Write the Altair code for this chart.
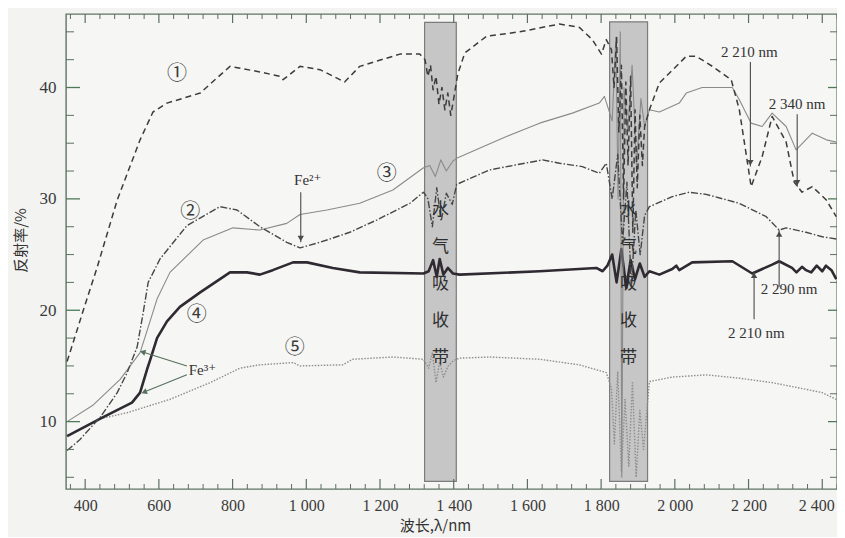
import altair as alt
import pandas as pd

# ---------------- data ----------------
wl1 = [351, 395, 433, 487, 549, 584, 622, 712, 793, 874, 928, 937, 983, 1037, 1104, 1145, 1254, 1308,
       1322, 1330, 1337, 1344, 1352, 1360, 1368, 1376, 1384, 1392, 1400,
       1411, 1430, 1489, 1579, 1687, 1741, 1776, 1801, 1814, 1828,
       1835, 1842, 1848, 1855, 1861, 1867, 1873, 1880, 1886, 1892, 1898, 1905, 1912, 1918,
       1931, 1958, 2031, 2058, 2102, 2153, 2175, 2207, 2237, 2264, 2302, 2324, 2345, 2373, 2411, 2438]
r1 = [15.4, 20.0, 23.9, 29.9, 35.3, 37.8, 38.6, 39.5, 41.9, 41.4, 41.0, 40.7, 41.9, 41.6, 40.5, 41.9, 43.0, 43.0,
      42.5, 41.0, 42.0, 39.8, 41.0, 38.5, 40.0, 38.0, 39.5, 37.5, 39.0,
      41.2, 43.1, 44.6, 45.0, 45.7, 45.4, 44.3, 43.0, 44.3, 43.4,
      40.0, 44.5, 36.0, 42.0, 30.0, 40.5, 33.0, 41.0, 27.0, 38.0, 31.0, 37.5, 33.0, 36.5,
      38.0, 40.4, 42.8, 42.8, 41.9, 40.7, 38.0, 31.1, 33.8, 37.4, 35.1, 31.5, 30.6, 31.1, 29.9, 28.4]

wl2 = [351, 386, 441, 487, 514, 541, 557, 571, 603, 676, 766, 812, 874, 947, 983, 1037, 1118, 1191, 1281, 1318,
       1330, 1342, 1354, 1366, 1380, 1396,
       1408, 1497, 1641, 1687, 1749, 1795, 1814,
       1830, 1845, 1858, 1870, 1882, 1894, 1906, 1918,
       1931, 1993, 2039, 2085, 2175, 2248, 2283, 2302, 2356, 2400, 2438]
r2 = [7.4, 8.4, 10.4, 12.6, 14.4, 16.7, 19.7, 22.5, 24.6, 27.6, 29.3, 29.0, 27.5, 26.1, 25.6, 26.1, 27.0, 28.1, 29.6, 30.6,
      30.0, 27.5, 31.0, 28.0, 30.5, 29.5,
      31.3, 32.6, 33.5, 33.2, 32.9, 32.3, 33.2,
      30.0, 34.0, 26.0, 31.5, 22.0, 29.0, 25.0, 28.5,
      29.3, 30.2, 30.6, 30.4, 29.6, 28.4, 27.2, 27.4, 27.0, 26.6, 26.4]

wl3 = [351, 422, 495, 549, 576, 595, 630, 720, 801, 874, 947, 983, 1056, 1145, 1235, 1318,
       1335, 1350, 1365, 1380, 1398,
       1411, 1543, 1633, 1722, 1795, 1809,
       1830, 1840, 1846, 1852, 1856, 1862, 1872, 1884, 1896, 1908, 1918,
       1931, 1958, 2012, 2031, 2074, 2121, 2156, 2175, 2207, 2237, 2264, 2302, 2329, 2373, 2411, 2438]
r3 = [10.0, 11.5, 13.8, 16.2, 19.0, 21.0, 23.4, 26.3, 27.4, 27.2, 27.8, 28.6, 29.0, 29.6, 30.8, 32.8,
      33.0, 32.0, 33.5, 32.5, 33.4,
      33.7, 35.6, 36.8, 37.7, 38.6, 39.2,
      37.0, 44.5, 30.0, 45.0, 5.0, 40.0, 36.0, 42.0, 33.0, 39.0, 36.5,
      38.0, 37.8, 38.6, 39.5, 40.0, 40.0, 40.0, 38.9, 36.8, 36.5, 37.7, 36.5, 34.4, 35.9, 35.3, 35.1]

wl4 = [351, 449, 527, 549, 568, 576, 595, 622, 657, 712, 793, 839, 874, 909, 964, 1002, 1072, 1145, 1318,
       1332, 1344, 1354, 1362, 1372, 1384, 1398,
       1416, 1633, 1787, 1804, 1817,
       1830, 1842, 1855, 1868, 1880, 1892, 1905, 1918,
       1931, 1958, 1993, 2004, 2012, 2047, 2156, 2210, 2264, 2283, 2318, 2330, 2345, 2356, 2370, 2385, 2400,
       2410, 2425, 2438]
r4 = [8.7, 10.4, 11.7, 12.6, 14.7, 15.5, 17.5, 19.0, 20.3, 21.6, 23.4, 23.4, 23.2, 23.6, 24.3, 24.3, 23.8, 23.4, 23.3,
      23.5, 24.5, 23.0, 24.6, 23.2, 23.8, 23.3,
      23.2, 23.5, 23.8, 23.5, 24.0,
      25.0, 22.5, 25.5, 22.0, 24.5, 22.8, 24.2, 23.0,
      23.5, 23.2, 23.7, 24.0, 23.6, 24.3, 24.4, 23.3, 24.1, 24.4, 23.8, 23.4, 23.9, 23.6, 23.4, 24.0, 23.5,
      24.0, 23.6, 22.8]

wl5 = [433, 514, 630, 739, 820, 874, 964, 983, 1099, 1126, 1235, 1318,
       1332, 1342, 1352, 1362, 1372, 1385, 1400,
       1416, 1497, 1633, 1741, 1814,
       1828, 1836, 1845, 1855, 1865, 1875, 1885, 1895, 1905, 1915,
       1931, 1993, 2085, 2175, 2264, 2356, 2400, 2438]
r5 = [10.2, 10.8, 12.0, 13.5, 14.8, 15.1, 15.3, 15.0, 15.1, 15.6, 15.8, 15.6,
      14.8, 16.2, 13.5, 15.4, 14.0, 15.0, 15.5,
      15.7, 15.8, 15.6, 15.1, 14.4,
      13.0, 8.0, 14.5, 5.5, 12.0, 6.0, 13.5, 5.0, 11.0, 7.5,
      13.6, 14.0, 14.2, 13.9, 13.5, 12.9, 12.6, 12.0]

# water absorption bands
band_lo = [1321, 1823]
band_hi = [1407, 1926]
band_top = [45.85, 45.9]
band_bot = [4.63, 4.63]
band_text = ["水\n气\n吸\n收\n带", "水\n气\n吸\n收\n带"]
band_text_y = [29.0, 29.0]

# ticks
x_major = [400, 600, 800, 1000, 1200, 1400, 1600, 1800, 2000, 2200, 2400]
x_minor = [v for v in range(360, 2441, 40) if v % 200 != 0]
y_major = [10, 20, 30, 40]
y_minor = [5, 7.5, 12.5, 15, 17.5, 22.5, 25, 27.5, 32.5, 35, 37.5, 42.5, 45]

# curve labels
num_text = ["①", "②", "③", "④", "⑤"]
num_x = [649, 685, 1218, 703, 969]
num_y = [41.2, 28.8, 32.2, 19.6, 16.6]

# text annotations
ann_text = ["Fe²⁺", "2 210 nm", "2 340 nm", "2 290 nm", "2 210 nm"]
ann_x = [1004, 2202, 2332, 2310, 2221]
ann_y = [31.7, 43.2, 38.5, 21.9, 18.0]
fe3_text = ["Fe³⁺"]
fe3_x = [681]
fe3_y = [14.6]

# vertical arrows (x, from, to)
down_x = [985, 2205, 2332]
down_from = [30.6, 42.3, 37.6]
down_to = [26.1, 32.9, 31.1]
up_x = [2283, 2215]
up_from = [22.1, 19.2]
up_to = [27.2, 23.5]
# slanted Fe3+ arrows
sl_x1 = [676, 676]
sl_y1 = [15.0, 14.2]
sl_x2 = [556, 560]
sl_y2 = [16.25, 12.65]

# ---------------- chart ----------------
W, H = 771, 475
xs = alt.Scale(domain=[348, 2440], nice=False, zero=False)
ys = alt.Scale(domain=[3.95, 46.6], nice=False, zero=False)

SERIF = "'Liberation Serif', 'DejaVu Serif', serif"
CJK = "'Noto Sans CJK SC', sans-serif"

xaxis = alt.Axis(values=x_major, ticks=False, domain=False, grid=False,
                 labelExpr="replace(format(datum.value, ','), ',', ' ')",
                 labelFont=SERIF, labelFontSize=16, labelColor="#3a3a3a", labelPadding=8,
                 labelOffset={"condition": {"test": "datum.value >= 2400", "value": -6}, "value": 0},
                 title="波长,λ/nm", titleFont=CJK, titleFontSize=15, titleFontWeight="normal",
                 titleColor="#333", titleX=369, titleY=36, titleBaseline="middle")
yaxis = alt.Axis(values=y_major, ticks=False, domain=False, grid=False,
                 labelFont=SERIF, labelFontSize=17, labelColor="#3a3a3a", labelPadding=10,
                 title="反射率/%", titleFont=CJK, titleFontSize=15, titleFontWeight="normal",
                 titleColor="#333", titleX=-46, titleY=226, titleAngle=270,
                 titleBaseline="middle", titleAlign="center")


def X(f="wl"):
    return alt.X(f + ":Q", scale=xs, axis=xaxis)


def Y(f="r"):
    return alt.Y(f + ":Q", scale=ys, axis=yaxis)


bands = pd.DataFrame({"wl": band_lo, "wl2": band_hi, "r": band_top, "r2": band_bot})
band_layer = alt.Chart(bands).mark_rect(fill="#c6c6c6", stroke="#7c7c7c", strokeWidth=1.2).encode(
    x=X(), x2="wl2:Q", y=Y(), y2="r2:Q")

bt = pd.DataFrame({"wl": [(a + b) / 2 for a, b in zip(band_lo, band_hi)], "r": band_text_y, "t": band_text})
band_txt = alt.Chart(bt).mark_text(font=CJK, fontSize=17, color="#2f2f2f", lineBreak="\n",
                                   lineHeight=37, baseline="middle").encode(x=X(), y=Y(), text="t:N")


def line(wl, r, color, width, dash=None):
    df = pd.DataFrame({"wl": wl, "r": r})
    kw = dict(color=color, strokeWidth=width, clip=True, strokeJoin="round")
    if dash:
        kw["strokeDash"] = dash
    return alt.Chart(df).mark_line(**kw).encode(x=X(), y=Y())


l1 = line(wl1, r1, "#3c3c3c", 1.5, [6, 4])
l2 = line(wl2, r2, "#474747", 1.4, [7, 2, 1.5, 2])
l3 = line(wl3, r3, "#8a8a8a", 1.1)
l4 = line(wl4, r4, "#2f2a31", 2.6)
l5 = line(wl5, r5, "#8e8e8e", 1.4, [1.5, 1.5])

# ticks (inward)
tick_col = "#5d6f60"
bx_maj = alt.Chart(pd.DataFrame({"wl": x_major})).mark_rule(color=tick_col, strokeWidth=1.2).encode(
    x=X(), y=alt.value(H), y2=alt.value(H - 10))
bx_min = alt.Chart(pd.DataFrame({"wl": x_minor})).mark_rule(color=tick_col, strokeWidth=1).encode(
    x=X(), y=alt.value(H), y2=alt.value(H - 5))
tx_maj = alt.Chart(pd.DataFrame({"wl": x_major})).mark_rule(color=tick_col, strokeWidth=1.2).encode(
    x=X(), y=alt.value(0), y2=alt.value(9))
tx_min = alt.Chart(pd.DataFrame({"wl": x_minor})).mark_rule(color=tick_col, strokeWidth=1).encode(
    x=X(), y=alt.value(0), y2=alt.value(5))
ly_maj = alt.Chart(pd.DataFrame({"r": y_major})).mark_rule(color="#4f7a58", strokeWidth=1.3).encode(
    y=Y(), x=alt.value(0), x2=alt.value(14))
ly_min = alt.Chart(pd.DataFrame({"r": y_minor})).mark_rule(color=tick_col, strokeWidth=1).encode(
    y=Y(), x=alt.value(0), x2=alt.value(8))
ry_maj = alt.Chart(pd.DataFrame({"r": y_major})).mark_rule(color="#4f7a58", strokeWidth=1.3).encode(
    y=Y(), x=alt.value(W), x2=alt.value(W - 9))
ry_min = alt.Chart(pd.DataFrame({"r": y_minor})).mark_rule(color=tick_col, strokeWidth=1).encode(
    y=Y(), x=alt.value(W), x2=alt.value(W - 7))

# labels
nums = alt.Chart(pd.DataFrame({"wl": num_x, "r": num_y, "t": num_text})).mark_text(
    font=CJK, fontSize=20, color="#3a3a3a").encode(x=X(), y=Y(), text="t:N")
anns = alt.Chart(pd.DataFrame({"wl": ann_x, "r": ann_y, "t": ann_text})).mark_text(
    font=SERIF, fontSize=15, color="#333").encode(x=X(), y=Y(), text="t:N")
fe3 = alt.Chart(pd.DataFrame({"wl": fe3_x, "r": fe3_y, "t": fe3_text})).mark_text(
    font=SERIF, fontSize=15, color="#333", align="left").encode(x=X(), y=Y(), text="t:N")

arrow_col = "#4a4a4a"
dn = pd.DataFrame({"wl": down_x, "r": down_from, "r2": down_to})
dn_rule = alt.Chart(dn).mark_rule(color=arrow_col, strokeWidth=1.1).encode(x=X(), y=Y(), y2="r2:Q")
dn_head = alt.Chart(pd.DataFrame({"wl": down_x, "r": [v + 0.35 for v in down_to]})).mark_point(
    shape="triangle-down", filled=True, size=40, color=arrow_col, opacity=1).encode(x=X(), y=Y())
up = pd.DataFrame({"wl": up_x, "r": up_from, "r2": up_to})
up_rule = alt.Chart(up).mark_rule(color=arrow_col, strokeWidth=1.1).encode(x=X(), y=Y(), y2="r2:Q")
up_head = alt.Chart(pd.DataFrame({"wl": up_x, "r": [v - 0.35 for v in up_to]})).mark_point(
    shape="triangle-up", filled=True, size=40, color=arrow_col, opacity=1).encode(x=X(), y=Y())

sl = pd.DataFrame({"wl": sl_x1, "r": sl_y1, "wl2": sl_x2, "r2": sl_y2})
sl_rule = alt.Chart(sl).mark_rule(color="#55705c", strokeWidth=1.1).encode(x=X(), y=Y(), x2="wl2:Q", y2="r2:Q")
sl_head1 = alt.Chart(pd.DataFrame({"wl": [sl_x2[0]], "r": [sl_y2[0]]})).mark_point(
    shape="triangle-left", filled=True, size=40, color="#55705c", opacity=1, angle=17).encode(x=X(), y=Y())
sl_head2 = alt.Chart(pd.DataFrame({"wl": [sl_x2[1]], "r": [sl_y2[1]]})).mark_point(
    shape="triangle-left", filled=True, size=40, color="#55705c", opacity=1, angle=338).encode(x=X(), y=Y())

chart = alt.layer(
    band_layer, l5, l4, l3, l2, l1, band_txt,
    bx_maj, bx_min, tx_maj, tx_min, ly_maj, ly_min, ry_maj, ry_min,
    nums, anns, fe3, dn_rule, dn_head, up_rule, up_head, sl_rule, sl_head1, sl_head2,
).properties(
    width=W, height=H,
    autosize=alt.AutoSizeParams(type="none"),
    padding={"left": 58, "top": 6, "right": 0, "bottom": 48},
    background="#f3f3f1",
).configure_view(
    stroke="#5f7462", strokeWidth=1.4, fill="#f6f6f4"
)

chart.save("out.html", embed_options={"renderer": "svg", "actions": False})
